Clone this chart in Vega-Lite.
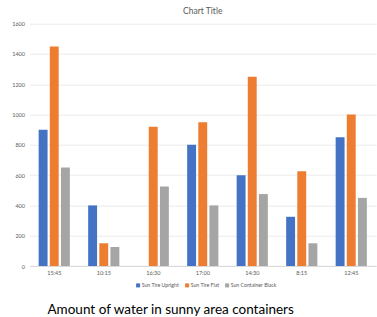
{
  "$schema": "https://vega.github.io/schema/vega-lite/v6.json",
  "width": 346.5,
  "height": 242.3,
  "autosize": {"type": "none"},
  "padding": {"left": 29.5, "top": 23.7, "right": 1, "bottom": 51},
  "background": "white",
  "title": {"text": "Chart Title", "fontSize": 8.5, "fontWeight": "normal", "color": "#595959", "font": "Lato", "offset": 6, "anchor": "middle"},
  "config": {
    "view": {"stroke": null},
    "font": "Lato"
  },
  "data": {"values": [
    {"time": "15:45", "series": "Sun Tire Upright", "value": 900},
    {"time": "15:45", "series": "Sun Tire Flat", "value": 1450},
    {"time": "15:45", "series": "Sun Container Black", "value": 650},
    {"time": "10:15", "series": "Sun Tire Upright", "value": 400},
    {"time": "10:15", "series": "Sun Tire Flat", "value": 150},
    {"time": "10:15", "series": "Sun Container Black", "value": 125},
    {"time": "16:30", "series": "Sun Tire Upright", "value": 0},
    {"time": "16:30", "series": "Sun Tire Flat", "value": 920},
    {"time": "16:30", "series": "Sun Container Black", "value": 525},
    {"time": "17:00", "series": "Sun Tire Upright", "value": 800},
    {"time": "17:00", "series": "Sun Tire Flat", "value": 950},
    {"time": "17:00", "series": "Sun Container Black", "value": 400},
    {"time": "14:30", "series": "Sun Tire Upright", "value": 600},
    {"time": "14:30", "series": "Sun Tire Flat", "value": 1250},
    {"time": "14:30", "series": "Sun Container Black", "value": 475},
    {"time": "8:15", "series": "Sun Tire Upright", "value": 325},
    {"time": "8:15", "series": "Sun Tire Flat", "value": 625},
    {"time": "8:15", "series": "Sun Container Black", "value": 150},
    {"time": "12:45", "series": "Sun Tire Upright", "value": 850},
    {"time": "12:45", "series": "Sun Tire Flat", "value": 1000},
    {"time": "12:45", "series": "Sun Container Black", "value": 450}
  ]},
  "mark": {"type": "bar"},
  "encoding": {
    "x": {
      "field": "time", "type": "nominal",
      "sort": ["15:45", "10:15", "16:30", "17:00", "14:30", "8:15", "12:45"],
      "scale": {"paddingInner": 0.37, "paddingOuter": 0.185},
      "axis": {
        "title": "Amount of water in sunny area containers",
        "titleFontSize": 13.5, "titleFontWeight": "normal", "titleColor": "#000000", "titleFont": "Lato",
        "titleAnchor": "start", "titleAlign": "left", "titleBaseline": "alphabetic",
        "titleX": 17.5, "titleY": 47.5,
        "labelAngle": 0, "labelFontSize": 5.5, "labelColor": "#595959", "labelPadding": 4,
        "ticks": false, "domainColor": "#d9d9d9", "domainWidth": 1
      }
    },
    "xOffset": {
      "field": "series", "type": "nominal",
      "sort": ["Sun Tire Upright", "Sun Tire Flat", "Sun Container Black"],
      "scale": {"paddingInner": 0.2, "paddingOuter": 0}
    },
    "y": {
      "field": "value", "type": "quantitative",
      "scale": {"domain": [0, 1600], "nice": false},
      "axis": {
        "title": null, "values": [0, 200, 400, 600, 800, 1000, 1200, 1400, 1600], "format": "d",
        "labelFontSize": 5.5, "labelColor": "#595959", "labelPadding": 5,
        "ticks": false, "domain": false, "gridColor": "#ebebeb", "gridWidth": 1
      }
    },
    "color": {
      "field": "series", "type": "nominal",
      "sort": ["Sun Tire Upright", "Sun Tire Flat", "Sun Container Black"],
      "scale": {"domain": ["Sun Tire Upright", "Sun Tire Flat", "Sun Container Black"], "range": ["#4472C4", "#ED7D31", "#A5A5A5"]},
      "legend": {
        "title": null, "orient": "none", "direction": "horizontal",
        "legendX": 106, "legendY": 259,
        "symbolType": "square", "symbolSize": 16, "symbolStrokeWidth": 0,
        "labelFontSize": 5.2, "labelColor": "#595959", "labelOffset": 1,
        "columnPadding": 5
      }
    }
  }
}
